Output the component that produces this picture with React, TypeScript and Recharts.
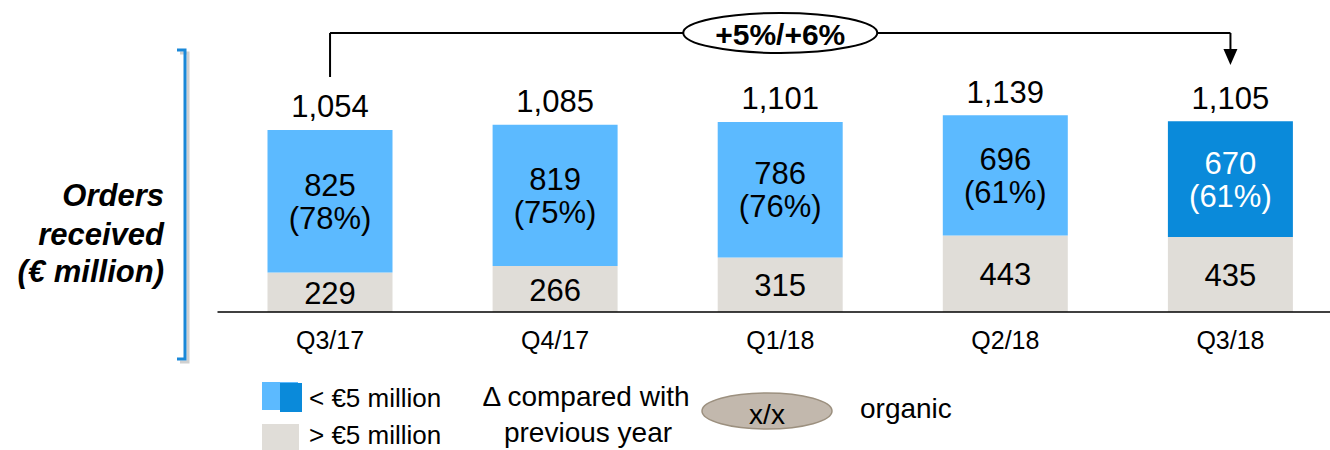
import { BarChart, Bar, XAxis, YAxis, Cell, LabelList, ReferenceLine, ReferenceDot } from 'recharts';

const quarters = ['Q3/17', 'Q4/17', 'Q1/18', 'Q2/18', 'Q3/18'];
const above5m = [229, 266, 315, 443, 435];
const below5m = [825, 819, 786, 696, 670];
const totals = [1054, 1085, 1101, 1139, 1105];
const shareBelow = [78, 75, 76, 61, 61];
const growthLabel = '+5%/+6%';

// levels for the year-on-year connector, in value units
const CONNECTOR_LEVEL = 1616;
const CONNECTOR_START = 1361;
const ARROW_TIP = 1430;
const ARROW_STEM_END = 1500;

const FONT = '"Liberation Sans", Arial, sans-serif';
const GRAY = '#E0DDD8';
const LIGHT_BLUE = '#5CBAFF';
const DARK_BLUE = '#0A8ADA';

const data = quarters.map((q, i) => ({
  quarter: q,
  large: above5m[i],
  small: below5m[i],
  total: totals[i],
  pct: shareBelow[i],
}));

const last = quarters.length - 1;

function GrayLabel(props: any) {
  const { x, y, width, height, value } = props;
  return (
    <text x={x + width / 2} y={y + height / 2 + 1} textAnchor="middle" dominantBaseline="central"
      fontFamily={FONT} fontSize={31} fill="#000">
      {value}
    </text>
  );
}

function BlueLabel(props: any) {
  const { x, y, width, height, value, index } = props;
  const cx = x + width / 2;
  const cy = y + height / 2;
  const color = index === last ? '#fff' : '#000';
  return (
    <g fontFamily={FONT} fontSize={31} fill={color} textAnchor="middle">
      <text x={cx} y={cy - 16} dominantBaseline="central" fill={color}>{value}</text>
      <text x={cx} y={cy + 17} dominantBaseline="central" fill={color}>({shareBelow[index]}%)</text>
      <text x={cx} y={y - 23} dominantBaseline="central" fill="#000">
        {totals[index].toLocaleString('en-US')}
      </text>
    </g>
  );
}

function QuarterTick(props: any) {
  const { x, y, payload } = props;
  return (
    <text x={x} y={y + 28} textAnchor="middle" dominantBaseline="central" fontFamily={FONT} fontSize={25} fill="#000">
      {payload.value}
    </text>
  );
}

function GrowthBubble(props: any) {
  const { cx, cy } = props;
  return (
    <g>
      <ellipse cx={cx} cy={cy} rx={97} ry={20} fill="#fff" stroke="#000" strokeWidth={2} />
      <text x={cx} y={cy + 2} textAnchor="middle" dominantBaseline="central" fontFamily={FONT}
        fontSize={30} fontWeight="bold" fill="#000">
        {growthLabel}
      </text>
    </g>
  );
}

function ArrowHead(props: any) {
  const { cx, cy } = props;
  return <path d={`M${cx - 7},${cy - 16} L${cx + 7},${cy - 16} L${cx},${cy} Z`} fill="#000" />;
}

function Decorations() {
  return (
    <svg width={1330} height={450} style={{ position: 'absolute', left: 0, top: 0, pointerEvents: 'none' }}>
      {/* bracket with shadow */}
      <path d="M180,53 L188,53 L188,362 L180,362" fill="none" stroke="#D0D0D0" strokeWidth={3} />
      <path d="M177,50 L185,50 L185,359 L177,359" fill="none" stroke="#1A88D8" strokeWidth={3} />
      <g fontFamily={FONT} fontSize={31} fontWeight="bold" fontStyle="italic" textAnchor="end" fill="#000">
        <text x={164} y={195} dominantBaseline="central">Orders</text>
        <text x={164} y={234} dominantBaseline="central">received</text>
        <text x={164} y={271} dominantBaseline="central">(€ million)</text>
      </g>
      {/* legend */}
      <rect x={262} y={382} width={36} height={28} fill={LIGHT_BLUE} />
      <rect x={280} y={383} width={22} height={29} fill={DARK_BLUE} />
      <rect x={262} y={424} width={37} height={26} fill={GRAY} />
      <g fontFamily={FONT} fontSize={26} fill="#000">
        <text x={309} y={398} dominantBaseline="central">{'< €5 million'}</text>
        <text x={309} y={435} dominantBaseline="central">{'> €5 million'}</text>
      </g>
      <g fontFamily={FONT} fontSize={28} fill="#000" textAnchor="middle">
        <text x={586} y={396} dominantBaseline="central">Δ compared with</text>
        <text x={588} y={432} dominantBaseline="central">previous year</text>
      </g>
      <ellipse cx={767} cy={411} rx={65} ry={18} fill="#C2B8AD" stroke="#9C907F" strokeWidth={1.5} />
      <text x={767} y={414} textAnchor="middle" dominantBaseline="central" fontFamily={FONT} fontSize={28} fill="#000">x/x</text>
      <text x={860} y={408} dominantBaseline="central" fontFamily={FONT} fontSize={28} fill="#000">organic</text>
    </svg>
  );
}

export default function App() {
  return (
    <div style={{ position: 'absolute', left: 0, top: 0, width: 1330, height: 450, overflow: 'hidden', background: '#fff' }}>
      <BarChart
        width={1343}
        height={450}
        data={data}
        margin={{ top: 18.45, right: 0, left: 217.5, bottom: 88 }}
        barSize={125}
      >
        <XAxis
          dataKey="quarter"
          height={50}
          axisLine={{ stroke: '#000', strokeWidth: 1.5 }}
          tickLine={false}
          tickSize={0}
          tickMargin={0}
          tick={<QuarterTick />}
          interval={0}
        />
        <YAxis hide domain={[0, 1700]} allowDataOverflow />
        <Bar dataKey="large" stackId="a" fill={GRAY} isAnimationActive={false}>
          <LabelList dataKey="large" content={<GrayLabel />} />
        </Bar>
        <Bar dataKey="small" stackId="a" fill={LIGHT_BLUE} isAnimationActive={false}>
          {data.map((_, i) => (
            <Cell key={i} fill={i === last ? DARK_BLUE : LIGHT_BLUE} />
          ))}
          <LabelList dataKey="small" content={<BlueLabel />} />
        </Bar>
        <ReferenceLine
          segment={[{ x: quarters[0], y: CONNECTOR_START }, { x: quarters[0], y: CONNECTOR_LEVEL }]}
          stroke="#000" strokeWidth={2}
        />
        <ReferenceLine
          segment={[{ x: quarters[0], y: CONNECTOR_LEVEL }, { x: quarters[last], y: CONNECTOR_LEVEL }]}
          stroke="#000" strokeWidth={2}
        />
        <ReferenceLine
          segment={[{ x: quarters[last], y: CONNECTOR_LEVEL }, { x: quarters[last], y: ARROW_STEM_END }]}
          stroke="#000" strokeWidth={2}
        />
        <ReferenceDot x={quarters[last]} y={ARROW_TIP} shape={<ArrowHead />} />
        <ReferenceDot x={quarters[2]} y={CONNECTOR_LEVEL} shape={<GrowthBubble />} />
      </BarChart>
      <Decorations />
    </div>
  );
}
